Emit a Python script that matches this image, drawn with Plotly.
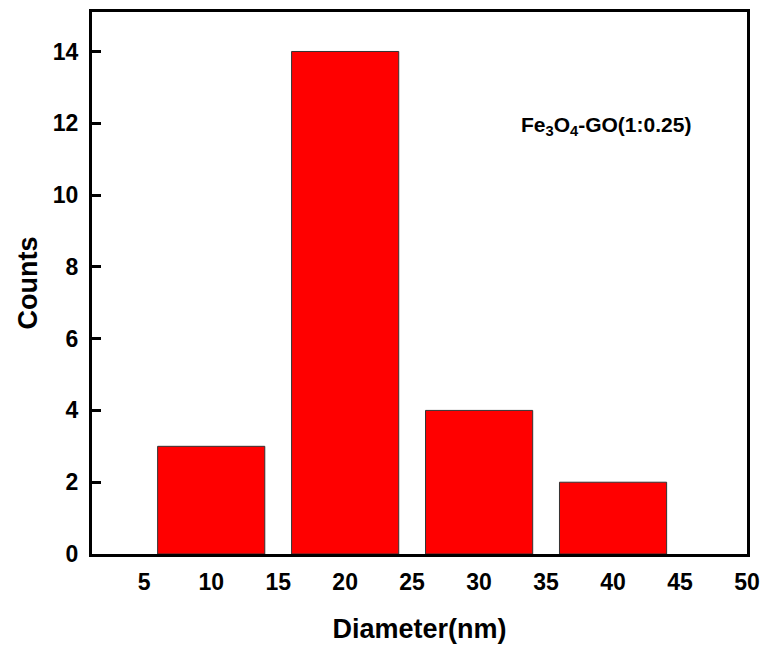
import plotly.graph_objects as go

diameters = [10, 20, 30, 40]
counts = [3, 14, 4, 2]
bin_width = [8, 8, 8, 8]
x_ticks = [5, 10, 15, 20, 25, 30, 35, 40, 45, 50]
y_ticks = [0, 2, 4, 6, 8, 10, 12, 14]

fig = go.Figure()
fig.add_trace(go.Bar(
    x=diameters, y=counts, width=bin_width,
    marker=dict(color="#ff0000", line=dict(color="#333333", width=1)),
))

font = "Liberation Sans, Arial, sans-serif"
fig.update_layout(
    width=764, height=648,
    margin=dict(l=92, r=17, t=12, b=94),
    plot_bgcolor="white", paper_bgcolor="white",
    showlegend=False,
    font=dict(family=font, color="black"),
    xaxis=dict(
        range=[1.1, 50], tickvals=x_ticks, ticks="", showgrid=False, zeroline=False,
        showline=True, linecolor="black", linewidth=3, mirror=True, automargin=False,
        ticklabelstandoff=5, ticklabeloverflow="allow",
        tickfont=dict(size=23, family=font, weight="bold"),
        title=dict(text="<b>Diameter(nm)</b>", font=dict(size=27), standoff=26),
    ),
    yaxis=dict(
        range=[0, 15.1], tickvals=y_ticks, ticks="inside", ticklen=9, tickwidth=3,
        tickcolor="black", showgrid=False, zeroline=False, automargin=False,
        showline=True, linecolor="black", linewidth=3, mirror=True,
        ticklabelstandoff=6,
        tickfont=dict(size=23, family=font, weight="bold"),
        title=dict(text="<b>Counts</b>", font=dict(size=27), standoff=8),
    ),
    annotations=[dict(
        x=0.785, y=0.79, xref="paper", yref="paper", showarrow=False,
        xanchor="center", yanchor="middle",
        text="Fe<sub>3</sub>O<sub>4</sub>-GO(1:0.25)",
        font=dict(size=21, family=font, weight="bold"),
    )],
)
fig.write_html(
    "out.html",
    config={"displayModeBar": False},
    post_script="document.body.style.margin='0px';document.body.style.overflow='hidden';",
)
